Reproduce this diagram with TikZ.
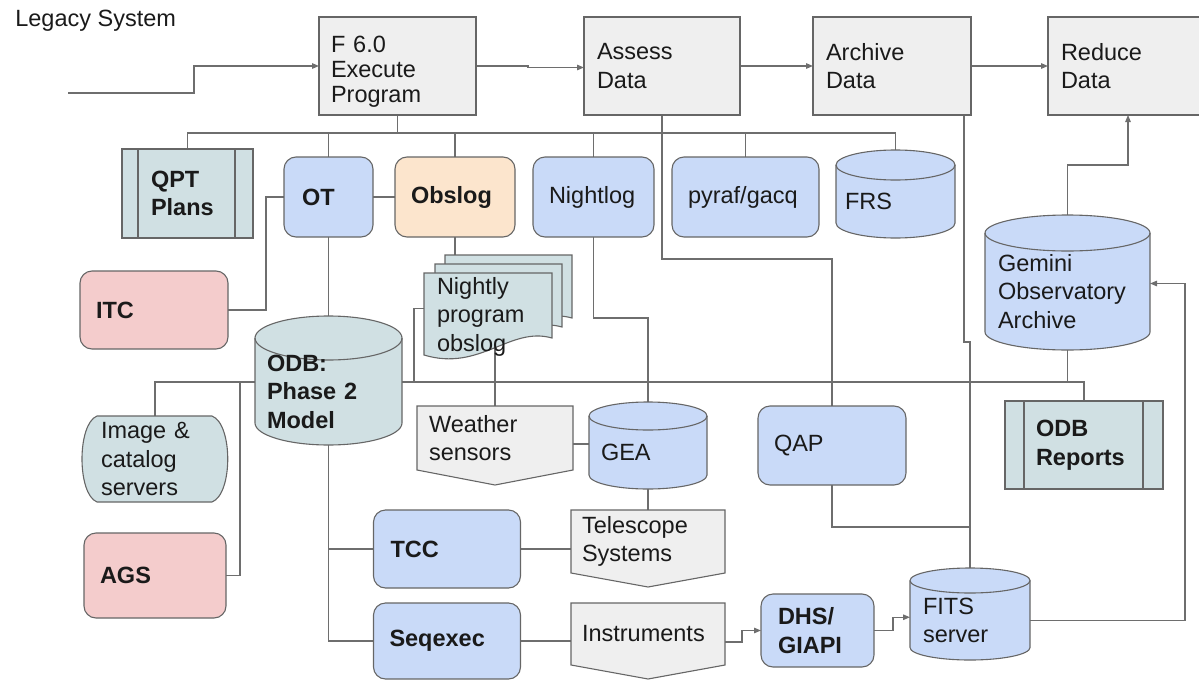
\documentclass[tikz,border=0pt]{standalone}
\usepackage{fontspec}
\setmainfont{Liberation Sans}
\usetikzlibrary{arrows.meta,calc}
\definecolor{bordc}{HTML}{666666}
\definecolor{linec}{HTML}{6E6E6E}
\definecolor{grayf}{HTML}{EFEFEF}
\definecolor{bluef}{HTML}{C9DAF8}
\definecolor{tealf}{HTML}{D0E0E3}
\definecolor{pinkf}{HTML}{F4CCCC}
\definecolor{orangef}{HTML}{FCE5CD}
\definecolor{txtc}{HTML}{1A1A1A}
\newcommand\dgfont{\fontsize{23.5}{28.5}\selectfont}
\newcommand\dgbold{\fontsize{23.5}{28.5}\selectfont\bfseries}
\newcommand\dgtight{\fontsize{23.5}{25}\selectfont}
\pgfdeclarelayer{bg}
\pgfsetlayers{bg,main}
% name, half width, ry, fill
\newcommand\dgcyl[4]{%
  \path[draw=bordc,line width=1.1pt,fill=#4] (#1.north west) -- ([yshift=#3pt]#1.south west)
    arc[start angle=180,end angle=360,x radius=#2pt,y radius=#3pt] -- (#1.north east)
    arc[start angle=0,end angle=180,x radius=#2pt,y radius=#3pt] -- cycle;
  \draw[draw=bordc,line width=1.1pt] (#1.north east) arc[start angle=0,end angle=-180,x radius=#2pt,y radius=#3pt];}
\tikzset{
  every node/.style={font=\dgfont, text=txtc, outer sep=0pt, inner ysep=0pt, align=left},
  sz/.style n args={3}{text width=#1, minimum height=#2, inner xsep=#3},
  gbox/.style={draw=bordc, line width=1.1pt, fill=grayf},
  tbox/.style={draw=bordc, line width=1.1pt, fill=tealf},
  bbox/.style={draw=bordc, line width=1.1pt, fill=bluef, rounded corners=12pt},
  pbox/.style={draw=bordc, line width=1.1pt, fill=pinkf, rounded corners=12pt},
  obox/.style={draw=bordc, line width=1.1pt, fill=orangef, rounded corners=12pt},
  plain/.style={},
  shp/.style={draw=bordc, line width=1.1pt},
  ln/.style={draw=linec, line width=1.2pt},
  arr/.style={ln, -{Triangle[length=7pt,width=5.5pt]}},
}
\begin{document}
\begin{tikzpicture}[x=1pt,y=-1pt]
\useasboundingbox (0,0) rectangle (1199,680);
\clip (0,0) rectangle (1199,680);

\node[anchor=west] (legacy) at (12,21) {Legacy System};

\node[gbox, sz={133pt}{98pt}{12pt}, font=\dgtight] (f6) at (397.5,66) {\rule{0pt}{27pt}F 6.0\\Execute\\Program};
\node[gbox, sz={130pt}{98pt}{13pt}] (assess) at (662,66) {Assess\\Data};
\node[gbox, sz={132pt}{98pt}{13pt}] (archive) at (892,66) {Archive\\Data};
\node[gbox, sz={134pt}{98pt}{13pt}] (reduce) at (1128,66) {Reduce\\Data};

\node[tbox, sz={73pt}{89pt}{29pt}, font=\dgbold] (qpt) at (187.5,193.5) {QPT\\Plans};
\node[bbox, sz={53pt}{80pt}{18pt}, font=\dgbold] (ot) at (328.5,197) {OT};
\node[obox, sz={88pt}{80pt}{16pt}, font=\dgbold] (obslog) at (455,197) {Obslog};
\node[bbox, sz={89pt}{80pt}{16pt}] (nightlog) at (593.5,197) {Nightlog};
\node[bbox, sz={115pt}{80pt}{16pt}] (pyraf) at (745.5,197) {pyraf/gacq};
\node[plain, sz={101pt}{73pt}{9pt}] (frs) at (895.5,201.5) {FRS};

\node[pbox, sz={116pt}{78pt}{16pt}, font=\dgbold] (itc) at (154,310) {ITC};
\node[plain, sz={123pt}{107pt}{12pt}, font=\dgbold] (odb) at (328.5,391.5) {ODB:\\Phase 2\\Model};
\node[plain, sz={102pt}{87pt}{13pt}] (nightly) at (488,316.5) {Nightly\\program\\obslog};
\node[plain, sz={139pt}{117pt}{13pt}] (gemini) at (1067.5,291.5) {Gemini\\Observatory\\Archive};

\node[plain, sz={108pt}{86pt}{19pt}] (imgcat) at (155,459) {Image \&\\catalog\\servers};
\node[plain, sz={132pt}{64pt}{12pt}] (weather) at (495,438) {Weather\\sensors};
\node[plain, sz={94pt}{73pt}{12pt}] (gea) at (648,452.5) {GEA};
\node[bbox, sz={116pt}{79pt}{16pt}] (qap) at (832,445.5) {QAP};
\node[tbox, sz={96pt}{88pt}{31pt}, font=\dgbold] (odbrep) at (1084,445) {ODB\\Reports};

\node[pbox, sz={110pt}{85pt}{16pt}, font=\dgbold] (ags) at (155,575.5) {AGS};
\node[bbox, sz={113pt}{78pt}{17pt}, font=\dgbold] (tcc) at (447,549) {TCC};
\node[plain, sz={132pt}{63pt}{11pt}] (telescope) at (648,541.5) {Telescope\\Systems};
\node[bbox, sz={115pt}{76pt}{16pt}, font=\dgbold] (seqexec) at (447,641) {Seqexec};
\node[plain, sz={132pt}{62pt}{11pt}] (instruments) at (648,634) {Instruments};
\node[bbox, sz={79pt}{73pt}{17pt}, font=\dgbold] (dhs) at (817.5,630.5) {DHS/\\GIAPI};
\node[plain, sz={94pt}{79.5pt}{13pt}] (fits) at (970,620.25) {FITS\\server};

% inner lines of predefined-process boxes
\draw[shp] ([xshift=16pt]qpt.north west) -- ([xshift=16pt]qpt.south west);
\draw[shp] ([xshift=-18pt]qpt.north east) -- ([xshift=-18pt]qpt.south east);
\draw[shp] ([xshift=19pt]odbrep.north west) -- ([xshift=19pt]odbrep.south west);
\draw[shp] ([xshift=-20pt]odbrep.north east) -- ([xshift=-20pt]odbrep.south east);

\begin{pgfonlayer}{bg}
\coordinate (bus1) at (0,133);
\coordinate (bus2) at (0,382);
\coordinate (in) at (68,93);
% top row
\draw[arr] (in) -- ++(126,0) |- (f6.west);
\draw[arr] (f6.east) -- ++(52,0) -- ++(0,1.5) -- ([yshift=-1.5pt]assess.west);
\draw[arr] (assess.east) -- (archive.west);
\draw[arr] (archive.east) -- (reduce.west);
% first bus
\draw[ln] (f6.south) -- (f6.south |- bus1);
\draw[ln] (qpt.north) -- (qpt.north |- bus1) -- (frs.north |- bus1) -- (frs.north);
\foreach \n in {ot,obslog,nightlog,pyraf} \draw[ln] (\n.north) -- (\n.north |- bus1);
\draw[ln] (ot.east) -- (obslog.west);
\draw[ln] (ot.west) -- ++(-18,0) |- (itc.east);
\draw[ln] (ot.south) -- (odb.north);
\draw[ln] (obslog.south) -- (obslog.south |- nightly.north);
\draw[ln] (nightlog.south) -- ++(0,81) -| (gea.north);
\draw[ln] (assess.south) -- ++(0,144) -| (qap.north);
\draw[ln] ([xshift=72pt]archive.south) -- ++(0,227) -| (fits.north);
\draw[ln] (qap.south) -- ++(0,42) -| (fits.north);
\draw[arr] (fits.east) -- ++(155,0) |- ([yshift=8pt]gemini.east);
\draw[arr] (gemini.north) -- ++(0,-68) -| (reduce.south);
% second bus
\draw[ln] (imgcat.north) -- (imgcat.north |- bus2) -- (odbrep.north |- bus2) -- (odbrep.north);
\draw[ln] (gemini.south) -- (gemini.south |- bus2);
\draw[ln] (ags.east) -| ([xshift=240pt]bus2);
\draw[ln] ([yshift=8pt]nightly.west) -| ([xshift=414pt]bus2);
\draw[ln] (weather.north) -- (weather.north |- nightly.center);
\draw[ln] ([yshift=-6pt]weather.east) -- ([yshift=-6pt]weather.east -| gea.west);
\draw[ln] (gea.south) -- (telescope.north);
% lower part
\draw[ln] (odb.south) |- (tcc.west);
\draw[ln] (odb.south) |- (seqexec.west);
\draw[ln] (tcc.east) -- (tcc.east -| telescope.west);
\draw[ln] (seqexec.east) -- (seqexec.east -| instruments.west);
\draw[arr] ([yshift=-8pt]instruments.east) -- ++(17,0) |- (dhs.west);
\draw[arr] (dhs.east) -- ++(19,0) |- ([yshift=3pt]fits.west);

% shapes drawn directly
\path[shp, fill=tealf] (445,255) -- (572,255) -- (572,318) .. controls (530,306) and (500,352) .. (445,335) -- cycle;
\path[shp, fill=tealf] (435,264) -- (562,264) -- (562,327) .. controls (520,315) and (490,361) .. (435,344) -- cycle;
\path[shp, fill=tealf] (424,273) -- (552,273) -- (552,338) .. controls (510,326) and (480,372) .. (424,355) -- cycle;
\path[shp, fill=tealf] (97,416) -- (212,416) .. controls (233,424) and (233,494) .. (212,502) -- (97,502) .. controls (77,494) and (77,424) .. (97,416) -- cycle;
\path[shp, fill=grayf] (417,406) -- (573,406) -- (573,470) -- (495,485) -- (417,470) -- cycle;
\path[shp, fill=grayf] (571,510) -- (725,510) -- (725,573) -- (648,587) -- (571,573) -- cycle;
\path[shp, fill=grayf] (571,603) -- (725,603) -- (725,665) -- (648,679) -- (571,665) -- cycle;
\dgcyl{frs}{59.5}{15}{bluef}
\dgcyl{odb}{73.5}{22}{tealf}
\dgcyl{gemini}{82.5}{18}{bluef}
\dgcyl{gea}{59}{14}{bluef}
\dgcyl{fits}{60}{12.5}{bluef}
\end{pgfonlayer}
\end{tikzpicture}
\end{document}
